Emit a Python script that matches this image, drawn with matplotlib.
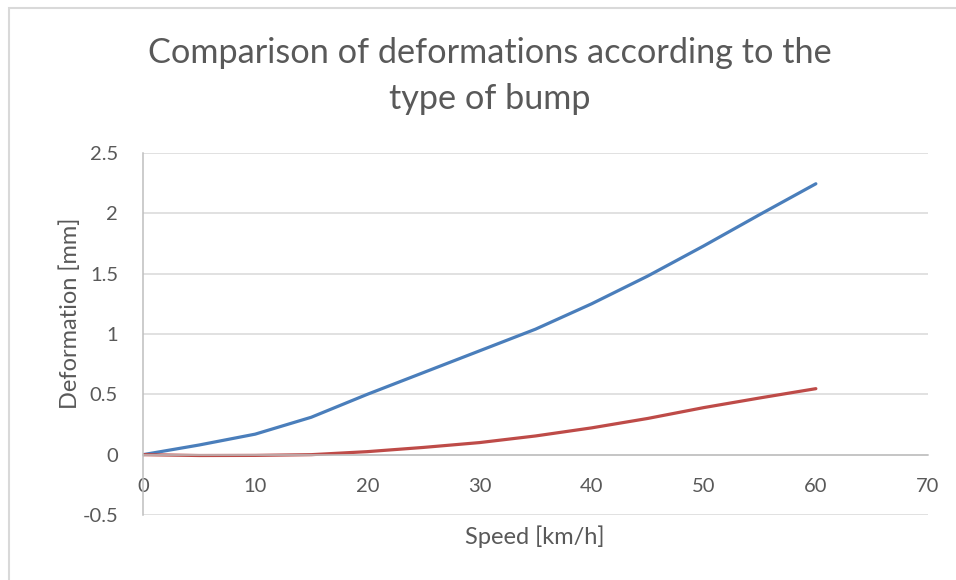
import numpy as np
import matplotlib.pyplot as plt
from matplotlib.patches import Rectangle

# values
speed = [0, 5, 10, 15, 20, 25, 30, 35, 40, 45, 50, 55, 60]
bump_blue = [0, 0.08, 0.17, 0.31, 0.5, 0.68, 0.86, 1.04, 1.25, 1.48, 1.73, 1.99, 2.245]
bump_red = [0, -0.007, -0.006, 0.0, 0.025, 0.06, 0.1, 0.155, 0.222, 0.3, 0.39, 0.47, 0.547]

xticks = [0, 10, 20, 30, 40, 50, 60, 70]
yticks = [-0.5, 0, 0.5, 1, 1.5, 2, 2.5]
ytick_labels = ['-0.5', '0', '0.5', '1', '1.5', '2', '2.5']

plt.rcParams['font.family'] = ['Lato', 'DejaVu Sans']
txt = '#595959'

W, H = 956, 580
fig = plt.figure(figsize=(W/100, H/100), dpi=100)

# chart frame (runs off the right and bottom edges)
fig.patches.append(Rectangle((9/W, -0.05), 1.0, 1 - 8/H + 0.05, transform=fig.transFigure,
                             fill=False, edgecolor='#d9d9d9', linewidth=1.5))

ax = fig.add_axes([143/W, 1 - 515/H, (928 - 143)/W, (515 - 153)/H])
ax.plot(speed, bump_blue, color='#4a7ebb', lw=2.3, solid_capstyle='round')
ax.plot(speed, bump_red, color='#be4b48', lw=2.3, solid_capstyle='round')

ax.set_xlim(0, 70)
ax.set_ylim(-0.5, 2.5)
ax.set_xticks(xticks)
ax.set_yticks(yticks)
ax.set_yticklabels(ytick_labels)
ax.grid(axis='y', color='#d9d9d9', lw=1.1)
ax.set_axisbelow(True)

for s in ['top', 'right']:
    ax.spines[s].set_visible(False)
ax.spines['left'].set_color('#bfbfbf')
ax.spines['left'].set_linewidth(1.1)
ax.spines['bottom'].set_position(('data', 0))
ax.spines['bottom'].set_color('#bfbfbf')
ax.spines['bottom'].set_linewidth(1.1)

ax.tick_params(axis='x', length=0, pad=17, labelsize=14.5, labelcolor=txt)
ax.tick_params(axis='y', length=0, pad=18, labelsize=14.5, labelcolor=txt)

fig.text(535/W, 1 - 537/H, 'Speed [km/h]', ha='center', va='center', fontsize=17, color=txt)
fig.text(70/W, 1 - 313/H, 'Deformation [mm]', ha='center', va='center', rotation=90,
         fontsize=17, color=txt)
fig.text(490/W, 1 - 76/H, 'Comparison of deformations according to the\ntype of bump',
         ha='center', va='center', fontsize=24.7, color=txt, linespacing=1.55)

fig.savefig('out.png', dpi=100)
